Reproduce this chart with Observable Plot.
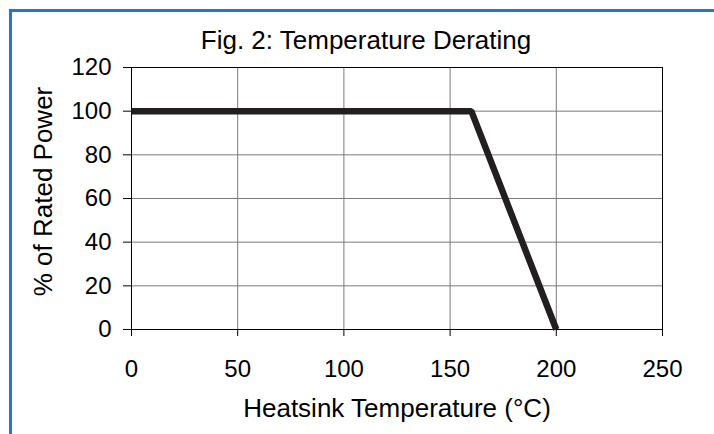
<!DOCTYPE html>
<html>
<head>
<meta charset="utf-8">
<script src="https://cdn.jsdelivr.net/npm/d3@7"></script>
<script src="https://cdn.jsdelivr.net/npm/@observablehq/plot@0.6"></script>
<style>
  html, body { margin: 0; padding: 0; background: #fff; overflow: hidden; }
  #wrap { position: relative; width: 714px; height: 434px; overflow: hidden; }
  #border { position: absolute; left: 9px; top: 9px; width: 900px; height: 900px;
            border-left: 3px solid #2279c4; border-top: 3px solid #2279c4; box-sizing: border-box; }
  #chart { position: absolute; left: 0; top: 0; }
</style>
</head>
<body>
<div id="wrap"><div id="border"></div><div id="chart"></div></div>
<script>
const temperature = [0, 20, 40, 60, 80, 100, 120, 140, 160, 200];
const ratedPower  = [100, 100, 100, 100, 100, 100, 100, 100, 100, 0];
const xTicks = [0, 50, 100, 150, 200, 250];
const yTicks = [0, 20, 40, 60, 80, 100, 120];
const title = "Fig. 2: Temperature Derating";
const xLabel = "Heatsink Temperature (°C)";
const yLabel = "% of Rated Power";

const data = temperature.map((t, i) => ({t, p: ratedPower[i]}));

const chart = Plot.plot({
  width: 714,
  height: 434,
  marginLeft: 131,
  marginRight: 52,
  marginTop: 67,
  marginBottom: 105,
  style: {fontFamily: "'Liberation Sans', Arial, sans-serif", fontSize: "24px", background: "transparent", color: "#000", overflow: "visible"},
  x: {domain: [0, 250]},
  y: {domain: [0, 120]},
  marks: [
    Plot.gridX(xTicks, {stroke: "#7a7a7a", strokeOpacity: 1}),
    Plot.gridY(yTicks, {stroke: "#7a7a7a", strokeOpacity: 1}),
    Plot.frame({stroke: "#000"}),
    Plot.axisX({ticks: xTicks, tickSize: 7, tickPadding: 23, label: null, fontSize: 24, stroke: "#000"}),
    Plot.axisY({ticks: yTicks, tickSize: 8, tickPadding: 12, label: null, fontSize: 24, stroke: "#000"}),
    Plot.ruleY([0], {stroke: "#000"}),
    Plot.ruleX([0], {stroke: "#000"}),
    Plot.line(data, {x: "t", y: "p", stroke: "#231f20", strokeWidth: 6.5, strokeLinejoin: "miter", strokeLinecap: "butt"}),
    Plot.text([title], {frameAnchor: "top", dx: -31, dy: -27, fontSize: 26, fill: "#000", textAnchor: "middle", lineAnchor: "middle"}),
    Plot.text([xLabel], {frameAnchor: "bottom", dy: 79, fontSize: 26, fill: "#000", textAnchor: "middle", lineAnchor: "middle"}),
    Plot.text([yLabel], {frameAnchor: "left", dx: -88, dy: -7, rotate: -90, fontSize: 26, fill: "#000", textAnchor: "middle", lineAnchor: "middle"})
  ]
});
document.getElementById("chart").appendChild(chart);
</script>
</body>
</html>
